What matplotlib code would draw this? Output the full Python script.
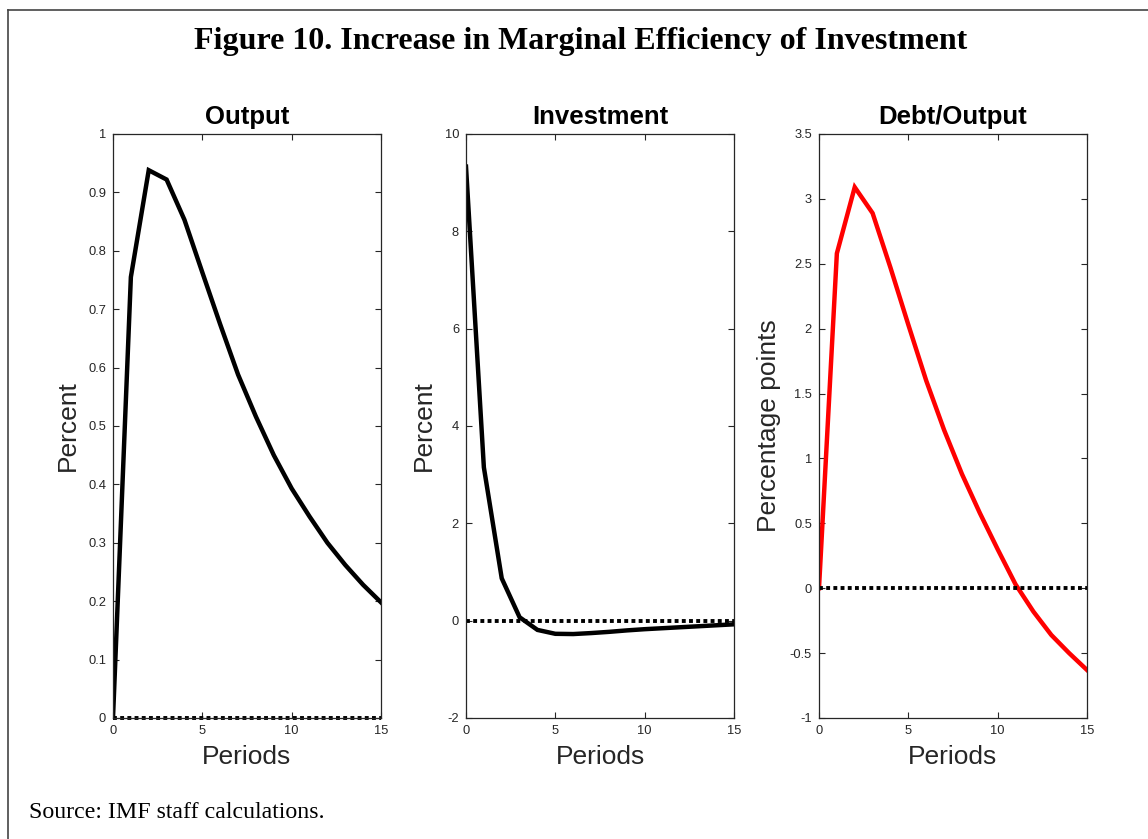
import matplotlib
matplotlib.use("Agg")
import matplotlib.pyplot as plt
from matplotlib.lines import Line2D
from matplotlib.ticker import FormatStrFormatter, MultipleLocator

plt.rcParams["font.family"] = ["Liberation Sans", "DejaVu Sans"]
plt.rcParams["axes.unicode_minus"] = False

# Impulse responses (periods 0..15)
periods = list(range(16))
output = [0.0, 0.755, 0.938, 0.922, 0.853, 0.763, 0.674, 0.588, 0.516, 0.450,
          0.393, 0.345, 0.300, 0.262, 0.228, 0.198]
investment = [9.33, 3.15, 0.87, 0.07, -0.19, -0.27, -0.275, -0.255, -0.23, -0.20,
              -0.175, -0.155, -0.135, -0.115, -0.095, -0.075]
debt_output = [0.0, 2.58, 3.09, 2.89, 2.47, 2.03, 1.60, 1.22, 0.88, 0.58,
               0.30, 0.03, -0.18, -0.36, -0.50, -0.63]

titles = ["Output", "Investment", "Debt/Output"]
ylabels = ["Percent", "Percent", "Percentage points"]
ylims = [(0, 1), (-2, 10), (-1, 3.5)]
ysteps = [0.1, 2, 0.5]
colors = ["black", "black", "red"]
series = [output, investment, debt_output]

W, H = 1148, 839
fig = plt.figure(figsize=(W / 100, H / 100), dpi=100)

# frame around the figure (top and left edges visible)
fig.add_artist(Line2D([8 / W, 1], [1 - 10 / H, 1 - 10 / H], color="#444444", lw=1.2))
fig.add_artist(Line2D([8 / W, 8 / W], [0, 1 - 10 / H], color="#444444", lw=1.2))

fig.text(0.506, 1 - 41 / H, "Figure 10. Increase in Marginal Efficiency of Investment",
         ha="center", va="center", fontsize=23, fontweight="bold",
         family="Liberation Serif")
fig.text(29 / W, 1 - 812 / H, "Source: IMF staff calculations.", ha="left", va="center",
         fontsize=17.2, family="Liberation Serif")

lefts = [113, 466, 819]
for i, left in enumerate(lefts):
    ax = fig.add_axes([left / W, 121 / H, 268 / W, 584 / H])
    ax.plot(periods, series[i], color=colors[i], lw=3.2, solid_joinstyle="miter")
    ax.axhline(0, color="black", lw=2.8, linestyle=(0, (1, 0.85)), clip_on=False)
    ax.set_xlim(0, 15)
    ax.set_ylim(*ylims[i])
    ax.xaxis.set_major_locator(MultipleLocator(5))
    ax.yaxis.set_major_locator(MultipleLocator(ysteps[i]))
    ax.xaxis.set_major_formatter(FormatStrFormatter("%g"))
    ax.yaxis.set_major_formatter(FormatStrFormatter("%g"))
    ax.tick_params(direction="in", length=4, width=0.8, labelsize=9.3,
                   colors="#262626", top=True, right=True, pad=5)
    for sp in ax.spines.values():
        sp.set_color("#262626")
        sp.set_linewidth(0.9)
    ax.set_title(titles[i], fontsize=18.5, fontweight="bold", pad=7)
    ax.set_xlabel("Periods", fontsize=19, color="#262626", labelpad=6)
    ax.set_ylabel(ylabels[i], fontsize=19, color="#262626", labelpad=6)

fig.savefig("out.png", dpi=100)
